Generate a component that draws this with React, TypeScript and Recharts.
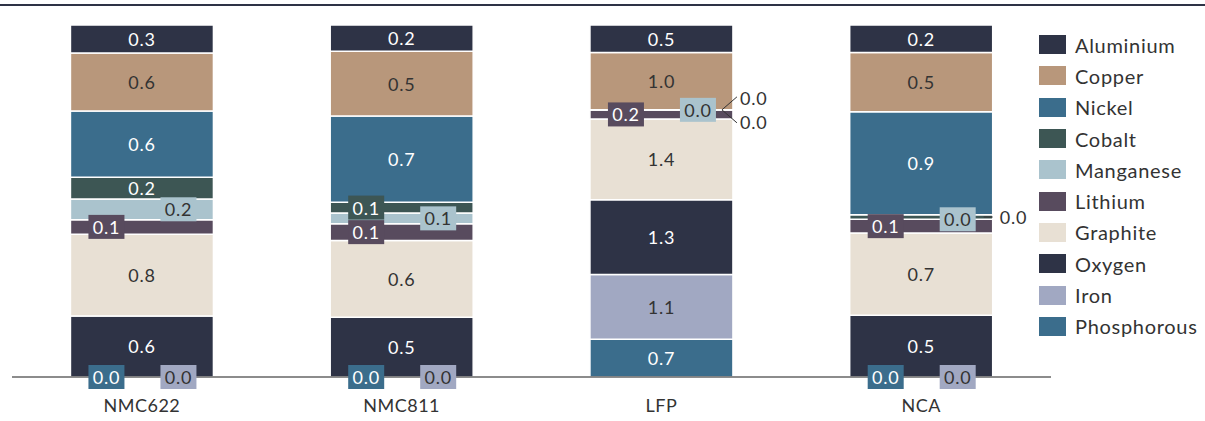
import React from "react";
import { BarChart, Bar, XAxis, YAxis, LabelList } from "recharts";

// battery chemistries and their material content
const categories = ["NMC622", "NMC811", "LFP", "NCA"];

const aluminium = [0.27, 0.22, 0.48, 0.24];
const copper = [0.56, 0.54, 1.0, 0.52];
const nickel = [0.64, 0.72, 0, 0.9];
const cobalt = [0.21, 0.09, 0, 0.04];
const manganese = [0.2, 0.09, 0, 0];
const lithium = [0.14, 0.14, 0.16, 0.12];
const graphite = [0.79, 0.64, 1.41, 0.72];
const oxygen = [0.59, 0.5, 1.3, 0.54];
const iron = [0, 0, 1.13, 0];
const phosphorous = [0, 0, 0.66, 0];

const FONT = "Lato, 'Open Sans', sans-serif";
const DARK = "#2e3346";
const INK = "#333333";

interface Series {
  name: string;
  values: number[];
  color: string;
  text: string;
}

// bottom of the stack first
const series: Series[] = [
  { name: "Phosphorous", values: phosphorous, color: "#3b6d8c", text: "#fff" },
  { name: "Iron", values: iron, color: "#a1a8c2", text: INK },
  { name: "Oxygen", values: oxygen, color: DARK, text: "#fff" },
  { name: "Graphite", values: graphite, color: "#e8e0d4", text: INK },
  { name: "Lithium", values: lithium, color: "#584b5e", text: "#fff" },
  { name: "Manganese", values: manganese, color: "#aac3cd", text: INK },
  { name: "Cobalt", values: cobalt, color: "#3d5654", text: "#fff" },
  { name: "Nickel", values: nickel, color: "#3b6d8c", text: "#fff" },
  { name: "Copper", values: copper, color: "#b8977b", text: INK },
  { name: "Aluminium", values: aluminium, color: DARK, text: "#fff" },
];

const data = categories.map((name, i) => {
  const row: Record<string, number | string> = { name };
  series.forEach((s) => (row[s.name] = s.values[i]));
  return row;
});

type Mode = "center" | "left" | "right" | "up" | "down" | "flat";

const labelMode = (name: string, v: number, h: number): Mode => {
  switch (name) {
    case "Lithium":
      return "left";
    case "Manganese":
      return "right";
    case "Nickel":
      return v === 0 ? "up" : "center";
    case "Cobalt":
      if (h >= 18) return "center";
      if (v === 0) return "down";
      return h >= 7 ? "left" : "flat";
    case "Iron":
      return h >= 20 ? "center" : "right";
    case "Phosphorous":
      return h >= 20 ? "center" : "left";
    default:
      return "center";
  }
};

const makeLabel = (s: Series) => (p: any) => {
  const vb = p.viewBox ?? p;
  const { x, y, width, height } = vb;
  const v = Number(p.value);
  if (!Number.isFinite(v)) return null;
  const txt = v.toFixed(1);
  const h = Math.abs(height);
  const top = Math.min(y, y + height);
  const cx = x + width / 2;
  const cy = top + h / 2;
  const mode = labelMode(s.name, v, h);
  const font = { fontFamily: FONT, fontSize: 18, letterSpacing: 0.8 };

  if (mode === "center") {
    return (
      <text x={cx} y={cy} textAnchor="middle" dominantBaseline="central" fill={s.text} {...font}>
        {txt}
      </text>
    );
  }
  if (mode === "left" || mode === "right") {
    const lx = mode === "left" ? cx - 35.5 : cx + 36.5;
    return (
      <g>
        <rect x={lx - 18} y={cy - 12} width={36} height={24} fill={s.color} />
        <text x={lx} y={cy} textAnchor="middle" dominantBaseline="central" fill={s.text} {...font}>
          {txt}
        </text>
      </g>
    );
  }
  const ex = x + width;
  if (mode === "flat") {
    return (
      <g>
        <line x1={ex - 9} y1={cy} x2={ex} y2={cy} stroke={INK} strokeWidth={1} />
        <text x={ex + 7} y={cy} textAnchor="start" dominantBaseline="central" fill={INK} {...font}>
          {txt}
        </text>
      </g>
    );
  }
  const dir = mode === "up" ? -1 : 1;
  return (
    <g>
      <line x1={ex - 11} y1={cy} x2={ex + 4} y2={cy + dir * 13} stroke={INK} strokeWidth={1} />
      <text x={ex + 7} y={cy + dir * 12} textAnchor="start" dominantBaseline="central" fill={INK} {...font}>
        {txt}
      </text>
    </g>
  );
};

const legendItems = [...series].reverse();

const App: React.FC = () => {
  return (
    <div style={{ position: "absolute", left: 0, top: 0, width: 1205, height: 421, background: "#fff" }}>
      <div style={{ position: "absolute", left: 0, top: 4, width: 1205, height: 2, background: DARK }} />
      <BarChart
        width={1205}
        height={421}
        data={data}
        stackOffset="expand"
        barCategoryGap="22.5%"
        margin={{ top: 25, right: 154, left: 12, bottom: 14 }}
      >
        <XAxis
          dataKey="name"
          axisLine={{ stroke: "#666", strokeWidth: 1.5 }}
          tickLine={false}
          tickMargin={16}
          tick={{ fill: INK, fontSize: 18, fontFamily: FONT, letterSpacing: 0.5 }}
        />
        <YAxis hide />
        {series.map((s) => (
          <Bar
            key={s.name}
            dataKey={s.name}
            stackId="a"
            fill={s.color}
            stroke="#fff"
            strokeWidth={1.5}
            minPointSize={0.01}
            isAnimationActive={false}
          >
            <LabelList dataKey={s.name} content={makeLabel(s)} />
          </Bar>
        ))}
      </BarChart>
      <div style={{ position: "absolute", left: 1039, top: 29 }}>
        {legendItems.map((s) => (
          <div key={s.name} style={{ display: "flex", alignItems: "center", height: 31.3 }}>
            <div style={{ width: 27, height: 19, background: s.color }} />
            <span style={{ marginLeft: 9, fontFamily: FONT, fontSize: 20, color: INK, letterSpacing: 0.7 }}>
              {s.name}
            </span>
          </div>
        ))}
      </div>
    </div>
  );
};

export default App;
